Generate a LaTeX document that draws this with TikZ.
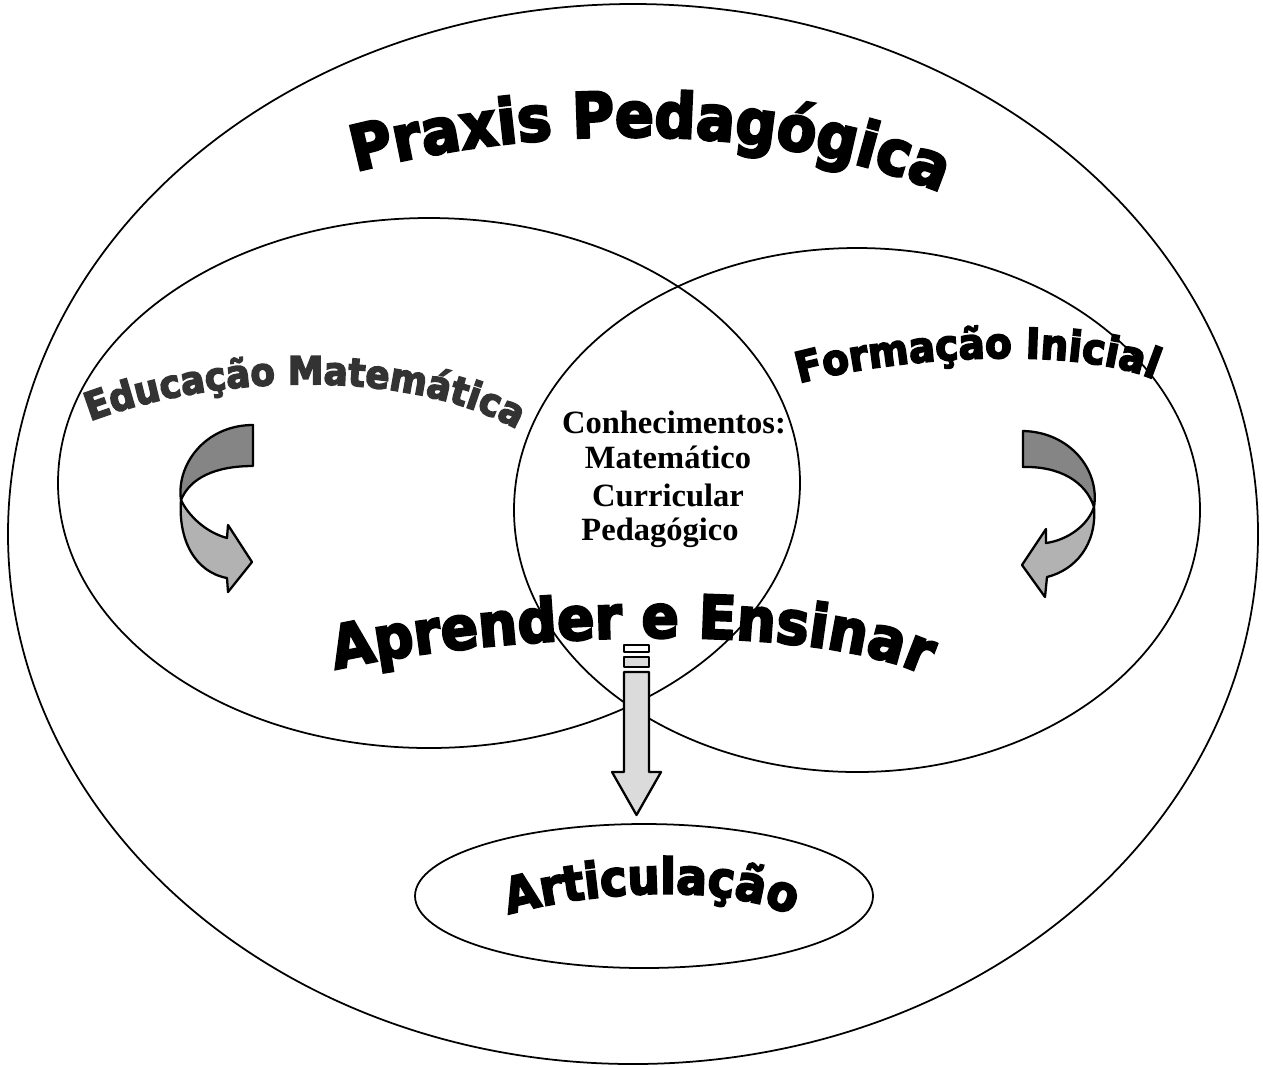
\documentclass[tikz,border=0pt]{standalone}
\usepackage{fontspec}
\setmainfont{Liberation Serif}
\newfontfamily\artfont[FakeBold=4,FakeStretch=0.92]{DejaVu Sans Bold}
\usetikzlibrary{decorations.text}
\definecolor{edugray}{gray}{0.2}
\definecolor{darkband}{gray}{0.52}
\definecolor{lightband}{gray}{0.70}
\definecolor{shaftgray}{gray}{0.86}
\begin{document}
\begin{tikzpicture}[x=0.02cm,y=-0.02cm,
  ring/.style={draw=black,line width=1pt},
  band/.style={draw=black,line width=1.3pt,line join=round},
  ctext/.style={font=\fontsize{18.5pt}{22pt}\selectfont\bfseries,anchor=base,inner sep=0pt}
]
\useasboundingbox (0,0) rectangle (1263,1066);
\fill[white] (0,0) rectangle (1263,1066);
% ellipses
\coordinate (outerC) at (633,534);
\coordinate (leftC) at (429,483);
\coordinate (rightC) at (857,510);
\coordinate (artC) at (644,896);
\draw[ring] (outerC) ellipse [x radius=625,y radius=530];
\draw[ring] (leftC) ellipse [x radius=371,y radius=265];
\draw[ring] (rightC) ellipse [x radius=343,y radius=262];
\draw[ring] (artC) ellipse [x radius=229,y radius=72];
% left curved arrow
\filldraw[band,fill=darkband] (253,425) -- (253,466) .. controls (215,466) and (190,478) .. (181,500) .. controls (176,465) and (205,425) .. (253,425) -- cycle;
\filldraw[band,fill=lightband] (181,500) .. controls (178,540) and (195,572) .. (227,578) -- (228,592) -- (252,562) -- (228,525) -- (227,538) .. controls (205,532) and (188,515) .. (181,500) -- cycle;
% right curved arrow
\filldraw[band,fill=darkband] (1023,431) -- (1023,467) .. controls (1060,466) and (1086,482) .. (1094,507) .. controls (1100,470) and (1070,432) .. (1023,431) -- cycle;
\filldraw[band,fill=lightband] (1094,507) .. controls (1097,545) and (1075,570) .. (1047,577) -- (1045,597) -- (1022,565) -- (1046,529) -- (1046,543) .. controls (1068,540) and (1088,525) .. (1094,507) -- cycle;
% down arrow
\draw[band,fill=white] (624,645) rectangle (649,652);
\draw[band,fill=shaftgray] (624,657) rectangle (649,667);
\filldraw[band,fill=shaftgray] (624,672) -- (649,672) -- (649,772) -- (661,772) -- (636.5,815) -- (612,772) -- (624,772) -- cycle;
% centre text
\node[ctext] (k1) at (674,433) {Conhecimentos:};
\node[ctext] (k2) at (668,468) {Matemático};
\node[ctext] (k3) at (668,506) {Curricular};
\node[ctext] (k4) at (660,540) {Pedagógico};
% word-art texts
\path[decorate,decoration={text along path,text align=center,
  text={|\artfont\fontsize{35.5pt}{38pt}\selectfont|Praxis Pedagógica}}]
  (323,180) -- (362,170) .. controls (540,125) and (760,120) .. (935,190) -- (972,205);
\path[decorate,decoration={text along path,text align=center,
  text={|\artfont\fontsize{22pt}{25pt}\selectfont\color{edugray}|Educação Matemática}}]
  (60,433) -- (88,422) .. controls (218,372) and (412,368) .. (522,432) -- (545,445);
\path[decorate,decoration={text along path,text align=center,
  text={|\artfont\fontsize{24pt}{27pt}\selectfont|Formação Inicial}}]
  (764,393) -- (793,385) .. controls (893,356) and (1080,344) .. (1160,382) -- (1187,395);
\path[decorate,decoration={text along path,text align=center,
  text={|\artfont\fontsize{34pt}{37pt}\selectfont|Aprender e Ensinar}}]
  (286,682) -- (325,672) .. controls (475,635) and (815,615) .. (935,680) -- (970,699);
\path[decorate,decoration={text along path,text align=center,
  text={|\artfont\fontsize{28pt}{31pt}\selectfont|Articulação}}]
  (474,925) -- (503,916) .. controls (583,892) and (725,880) .. (797,918) -- (824,932);
\end{tikzpicture}
\end{document}
